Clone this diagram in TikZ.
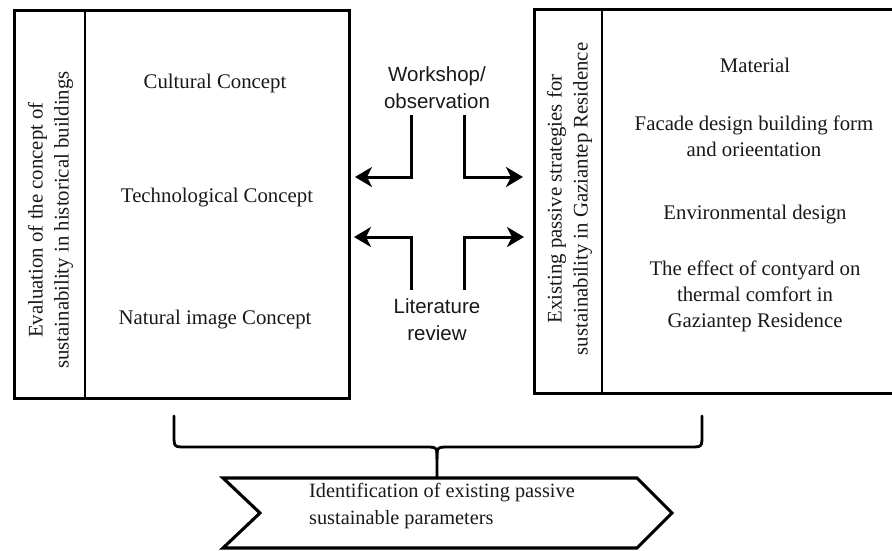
\documentclass[tikz,border=0pt]{standalone}
\usepackage{fontspec}
\setmainfont{Liberation Serif}
\setsansfont{Liberation Sans}
\usetikzlibrary{arrows.meta}
\begin{document}
\begin{tikzpicture}[x=1pt,y=-1pt,
  txt/.style={font=\fontsize{20.8}{26}\selectfont, text=black!90, inner sep=0pt, align=center},
  stxt/.style={font=\sffamily\fontsize{20.5}{27}\selectfont, text=black!90, inner sep=0pt, align=center},
  frame/.style={draw, line width=3.1pt},
  divider/.style={draw, line width=1.4pt},
  flow/.style={line width=3pt, -{Stealth[length=17pt,width=20pt,inset=5pt]}},
  bracestyle/.style={line width=2.8pt, line cap=round, line join=round}]
\clip (0,0) rectangle (892,550);
\fill[white] (0,0) rectangle (892,550);

% left box
\node[frame, minimum width=335pt, minimum height=388pt, anchor=north west, inner sep=0pt] (lbox) at (13,9) {};
\draw[divider] (85,9) -- (85,397);
\node[txt, rotate=90] (ltitle) at (50.5,220) {Evaluation of the concept of\\sustainability in historical buildings};
\node[txt] (cult) at (215,83) {Cultural Concept};
\node[txt] (tech) at (217,198) {Technological Concept};
\node[txt] (nat) at (215,320) {Natural image Concept};

% right box
\node[frame, minimum width=400pt, minimum height=384pt, anchor=north west, inner sep=0pt] (rbox) at (533,8) {};
\draw[divider] (602,8) -- (602,392);
\node[txt, rotate=90] (rtitle) at (569.5,199) {Existing passive strategies for\\sustainability in Gaziantep Residence};
\node[txt] (mat) at (755,65) {Material};
\node[txt] (fac) at (754,136.5) {Facade design building form\\and orieentation};
\node[txt] (env) at (755,215) {Environmental design};
\node[txt] (eff) at (755,296) {The effect of contyard on\\thermal comfort in\\Gaziantep Residence};

% middle labels and arrows
\node[stxt] (ws) at (437,87.5) {Workshop/\\observation};
\node[stxt] (lit) at (437,320) {Literature\\review};
\coordinate (ul) at (411,115);
\coordinate (ur) at (464,115);
\coordinate (ll) at (411,290);
\coordinate (lr) at (464,290);
\coordinate (ult) at (355,177);
\coordinate (urt) at (523,177);
\coordinate (llt) at (354,237);
\coordinate (lrt) at (524,237);
\draw[flow] (ul) |- (ult);
\draw[flow] (ur) |- (urt);
\draw[flow] (ll) |- (llt);
\draw[flow] (lr) |- (lrt);

% brace
\coordinate (bl) at (174,416);
\coordinate (br) at (702,416);
\coordinate (bm) at (437,459);
\coordinate (bs) at (437,478);
\draw[bracestyle] (bl) -- (174,435) .. controls (174,447) .. (186,447) -- (425,447) .. controls (437,447) .. (bm) -- (bs);
\draw[bracestyle] (br) -- (702,435) .. controls (702,447) .. (690,447) -- (449,447) .. controls (437,447) .. (bm);

% chevron
\draw[frame, line join=miter] (223,478) -- (637,478) -- (672,513) -- (637,548) -- (223,548) -- (260,513) -- cycle;
\node[txt, font=\fontsize{20.3}{27}\selectfont, align=left, anchor=west] (idtext) at (309,506.5) {Identification of existing passive\\sustainable parameters};
\end{tikzpicture}
\end{document}
